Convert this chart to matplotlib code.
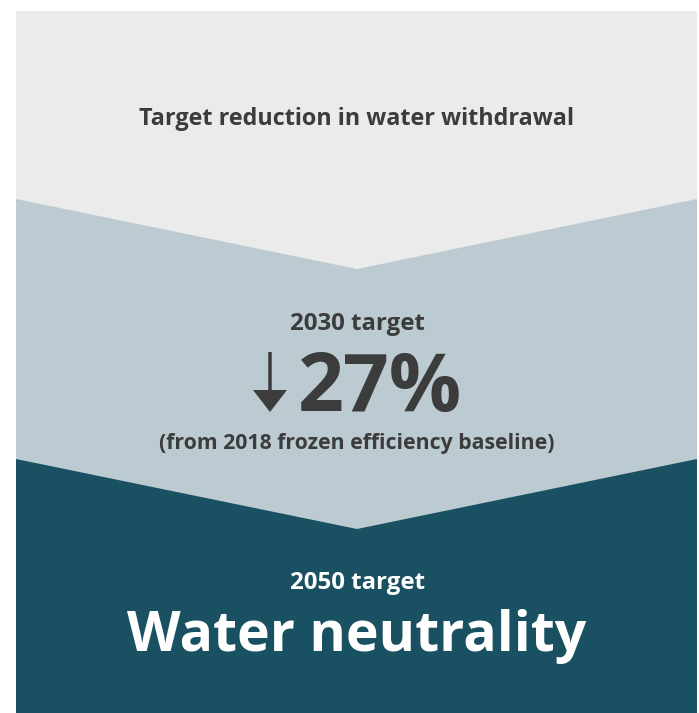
import matplotlib
matplotlib.use("Agg")
import matplotlib.pyplot as plt
from matplotlib.patches import Polygon, Rectangle, FancyArrow

W, H = 699, 713

# band layout (pixels)
panel_left, panel_right, panel_top = 16, 697, 11
apex_x = 357
band_edges = [199, 459]      # y where each chevron meets the side
band_apex = [269, 529]       # y of the chevron tip
band_colors = ["#bccad1", "#1a5162"]
bg_color = "#ebebeb"
dark_text = "#3c3c3c"

title = "Target reduction in water withdrawal"
mid_label = "2030 target"
mid_value = "27%"
mid_note = "(from 2018 frozen efficiency baseline)"
low_label = "2050 target"
low_value = "Water neutrality"

plt.rcParams["font.family"] = ["Open Sans", "DejaVu Sans"]

fig = plt.figure(figsize=(W / 100, H / 100), dpi=100)
ax = fig.add_axes([0, 0, 1, 1])
ax.set_xlim(0, W)
ax.set_ylim(H, 0)
ax.axis("off")

ax.add_patch(Rectangle((panel_left, panel_top), panel_right - panel_left, H - panel_top,
                       color=bg_color, lw=0))
for edge, apex, col in zip(band_edges, band_apex, band_colors):
    pts = [(panel_left, edge), (apex_x, apex), (panel_right, edge),
           (panel_right, H), (panel_left, H)]
    ax.add_patch(Polygon(pts, closed=True, color=col, lw=0))

ax.text(apex_x, 119, title, ha="center", va="center", fontsize=16.8,
        fontweight="bold", color=dark_text)
ax.text(apex_x, 324, mid_label, ha="center", va="center", fontsize=17.3,
        fontweight="bold", color=dark_text)
ax.text(380, 390, mid_value, ha="center", va="center", fontsize=58,
        fontweight="bold", color=dark_text)
# down arrow in front of the percentage
ax.add_patch(FancyArrow(270, 352, 0, 60, width=3.5, head_width=34, head_length=22,
                        length_includes_head=True, color=dark_text, lw=0))
ax.text(apex_x, 443, mid_note, ha="center", va="center", fontsize=15.3,
        fontweight="bold", color=dark_text)
ax.text(apex_x, 583, low_label, ha="center", va="center", fontsize=17.3,
        fontweight="bold", color="white")
ax.text(apex_x, 636, low_value, ha="center", va="center", fontsize=40,
        fontweight="bold", color="white")

fig.savefig("out.png", dpi=100, facecolor="white")
